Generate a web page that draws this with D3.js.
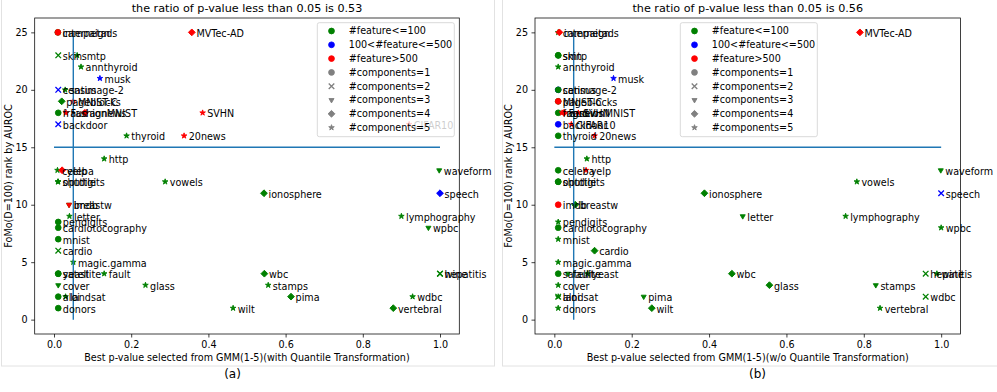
<!DOCTYPE html>
<html>
<head>
<meta charset="utf-8">
<script src="https://cdn.jsdelivr.net/npm/d3@7"></script>
<style>
  body { margin: 0; background: #fff; }
  svg { display: block; font-family: 'DejaVu Sans', sans-serif; }
</style>
</head>
<body>
<script>
/* FoMo rank vs best GMM p-value, two panels */

// Dataset names (same order for both panels, later ones drawn on top)
const datasets = [
  'campaign', 'internetads', 'MVTec-AD', 'skin', 'smtp', 'annthyroid', 'musk',
  'census', 'satimage-2', 'pageblocks', 'MNIST-C', 'fraud', 'agnews',
  'FashionMNIST', 'SVHN', 'backdoor', 'CIFAR10', 'thyroid', '20news', 'http',
  'celeba', 'yelp', 'shuttle', 'optdigits', 'vowels', 'waveform', 'ionosphere',
  'speech', 'breastw', 'imdb', 'letter', 'lymphography', 'pendigits',
  'cardiotocography', 'wpbc', 'mnist', 'cardio', 'magic.gamma', 'satellite',
  'yeast', 'fault', 'wbc', 'hepatitis', 'wine', 'cover', 'glass', 'stamps',
  'aloi', 'landsat', 'pima', 'wdbc', 'donors', 'wilt', 'vertebral'
];

// Feature-count groups
const midFeatureSets = ['musk', 'census', 'backdoor', 'speech'];
const bigFeatureSets = [
  'internetads', 'MVTec-AD', 'MNIST-C', 'agnews', 'FashionMNIST', 'SVHN',
  'CIFAR10', '20news', 'yelp', 'imdb'
];

// (a) with quantile transformation
const pvalA = [
  0.010, 0.010, 0.357, 0.011, 0.060, 0.070, 0.119,
  0.011, 0.029, 0.020, 0.050, 0.011, 0.080,
  0.031, 0.385, 0.011, 0.920, 0.188, 0.337, 0.130,
  0.009, 0.021, 0.010, 0.011, 0.288, 0.998, 0.544,
  1.000, 0.039, 0.039, 0.040, 0.900, 0.011,
  0.011, 0.970, 0.011, 0.011, 0.050, 0.011,
  0.011, 0.130, 0.545, 1.000, 1.000, 0.011, 0.237, 0.555,
  0.011, 0.030, 0.614, 0.929, 0.011, 0.464, 0.879
];
const rankA = [
  25, 25, 25, 23, 23, 22, 21,
  20, 20, 19, 19, 18, 18,
  18, 18, 17, 17, 16, 16, 14,
  13, 13, 12, 12, 12, 13, 11,
  11, 10, 10, 9, 9, 8.5,
  8, 8, 7, 6, 5, 4,
  4, 4, 4, 4, 4, 3, 3, 3,
  2, 2, 2, 2, 1, 1, 1
];
const compA = [
  1, 1, 4, 2, 5, 5, 5,
  2, 5, 4, 5, 1, 4,
  5, 5, 2, 5, 5, 5, 5,
  5, 4, 5, 5, 5, 3, 4,
  4, 3, 3, 5, 5, 1,
  1, 3, 1, 2, 5, 1,
  1, 5, 4, 2, 2, 3, 5, 5,
  1, 5, 4, 5, 1, 5, 4
];

// (b) without quantile transformation
const pvalB = [
  0.010, 0.013, 0.790, 0.010, 0.010, 0.010, 0.153,
  0.010, 0.010, 0.010, 0.010, 0.010, 0.020,
  0.025, 0.062, 0.010, 0.044, 0.010, 0.104, 0.084,
  0.010, 0.082, 0.010, 0.010, 0.782, 0.999, 0.388,
  1.000, 0.054, 0.010, 0.487, 0.753, 0.010,
  0.010, 1.000, 0.010, 0.104, 0.010, 0.010,
  0.086, 0.035, 0.459, 0.960, 0.989, 0.010, 0.556, 0.831,
  0.010, 0.010, 0.231, 0.960, 0.010, 0.252, 0.842
];
const rankB = rankA.slice();
const compB = [
  5, 4, 4, 1, 1, 5, 5,
  1, 1, 1, 1, 1, 5,
  4, 5, 1, 5, 1, 5, 5,
  1, 5, 1, 1, 5, 3, 4,
  2, 4, 1, 3, 5, 5,
  1, 5, 5, 4, 5, 1,
  5, 3, 4, 2, 5, 5, 4, 3,
  2, 5, 3, 2, 5, 4, 5
];

const legendLabels = [
  '#feature<=100', '100<#feature<=500', '#feature>500',
  '#components=1', '#components=2', '#components=3', '#components=4', '#components=5'
];
const xTicks = [0, 0.2, 0.4, 0.6, 0.8, 1.0];
const yTicks = [0, 5, 10, 15, 20, 25];
const pThreshold = 0.05;
const rankThreshold = 15;

// Colours
const groupColors = ['green', 'blue', 'red'];
const lineColor = '#1f77b4';
const fontSmall = '9.6px';

function featureGroup(name) {
  if (bigFeatureSets.includes(name)) return 2;
  if (midFeatureSets.includes(name)) return 1;
  return 0;
}

// 'x' marker as a custom d3 symbol type
const crossType = {
  draw(context, size) {
    const r = Math.sqrt(size) / 2;
    context.moveTo(-r, -r);
    context.lineTo(r, r);
    context.moveTo(-r, r);
    context.lineTo(r, -r);
  },
};
const markerTypes = [null, d3.symbolCircle, crossType, d3.symbolTriangle, d3.symbolSquare, d3.symbolStar];
const markerSizes = [0, 26, 31, 11, 23, 9.6];
const markerRotate = [0, 0, 0, 180, 45, 0];

function addMarker(g, comp, color, cx, cy) {
  const path = d3.symbol().type(markerTypes[comp]).size(markerSizes[comp])();
  const m = g
    .append('path')
    .attr('d', path)
    .attr('transform', `translate(${cx},${cy}) rotate(${markerRotate[comp]})`);
  if (comp === 2) {
    m.attr('fill', 'none').attr('stroke', color).attr('stroke-width', 1.3);
  } else {
    m.attr('fill', color).attr('stroke', color).attr('stroke-width', 0.9);
  }
}

const svg = d3.select('body').append('svg').attr('width', 997).attr('height', 392);

const panels = [
  {
    pvals: pvalA, ranks: rankA, comps: compA,
    xRange: [34.7, 459.3], box: [1, 494],
    title: 'the ratio of p-value less than 0.05 is 0.53',
    xlabel: 'Best p-value selected from GMM(1-5)(with Quantile Transformation)',
    caption: '(a)', captionX: 232.5, legendX: 317.3,
  },
  {
    pvals: pvalB, ranks: rankB, comps: compB,
    xRange: [535, 960.5], box: [502, 998],
    title: 'the ratio of p-value less than 0.05 is 0.56',
    xlabel: 'Best p-value selected from GMM(1-5)(w/o Quantile Transformation)',
    caption: '(b)', captionX: 757.5, legendX: 680.3,
  },
];

panels.forEach((p) => {
  const g = svg.append('g');

  // figure border
  g.append('rect')
    .attr('x', p.box[0] + 0.5)
    .attr('y', -2)
    .attr('width', p.box[1] - p.box[0])
    .attr('height', 368)
    .attr('fill', 'none')
    .attr('stroke', '#e2e2e2');

  const x = d3.scaleLinear().domain([-0.05, 1.05]).range(p.xRange);
  const y = d3.scaleLinear().domain([-1.25, 26.25]).range([334, 18]);

  // markers
  const marks = g.append('g');
  datasets.forEach((name, i) => {
    addMarker(marks, p.comps[i], groupColors[featureGroup(name)], x(p.pvals[i]), y(p.ranks[i]));
  });

  // threshold lines
  g.append('line')
    .attr('x1', x(0)).attr('x2', x(1))
    .attr('y1', y(rankThreshold)).attr('y2', y(rankThreshold))
    .attr('stroke', lineColor).attr('stroke-width', 1.4);
  g.append('line')
    .attr('x1', x(pThreshold)).attr('x2', x(pThreshold))
    .attr('y1', y(0)).attr('y2', y(25))
    .attr('stroke', lineColor).attr('stroke-width', 1.4);

  // axes
  const xAxis = g
    .append('g')
    .attr('transform', `translate(0,${y.range()[0]})`)
    .call(d3.axisBottom(x).tickValues(xTicks).tickFormat(d3.format('.1f')).tickSize(3.5).tickPadding(3.5));
  const yAxis = g
    .append('g')
    .attr('transform', `translate(${p.xRange[0]},0)`)
    .call(d3.axisLeft(y).tickValues(yTicks).tickSize(3.5).tickPadding(3.5));
  [xAxis, yAxis].forEach((a) => {
    a.select('.domain').remove();
    a.selectAll('line').attr('stroke', '#000').attr('stroke-width', 0.75);
    a.selectAll('text').attr('fill', '#000').style('font-size', fontSmall).style('font-family', 'DejaVu Sans');
  });

  // spines
  g.append('rect')
    .attr('x', p.xRange[0])
    .attr('y', 18)
    .attr('width', p.xRange[1] - p.xRange[0])
    .attr('height', 334 - 18)
    .attr('fill', 'none')
    .attr('stroke', '#000')
    .attr('stroke-width', 0.75);

  // point labels
  datasets.forEach((name, i) => {
    g.append('text')
      .attr('x', x(p.pvals[i]) + 4.6)
      .attr('y', y(p.ranks[i]) + 4.4)
      .text(name)
      .attr('font-size', fontSmall)
      .attr('fill', '#000');
  });

  // legend
  const lg = g.append('g').attr('transform', `translate(${p.legendX},22.7)`);
  lg.append('rect')
    .attr('width', 137)
    .attr('height', 114)
    .attr('rx', 2)
    .attr('fill', '#fff')
    .attr('fill-opacity', 0.8)
    .attr('stroke', '#cccccc')
    .attr('stroke-width', 0.75);
  legendLabels.forEach((label, i) => {
    const cy = 8.3 + i * 13.8;
    const comp = i < 3 ? 1 : i - 2;
    const color = i < 3 ? groupColors[i] : 'gray';
    addMarker(lg, comp, color, 14.2, cy);
    lg.append('text')
      .attr('x', 31.5)
      .attr('y', cy + 3.4)
      .text(label)
      .attr('font-size', fontSmall)
      .attr('fill', '#000');
  });

  // title and axis labels
  const cx = (p.xRange[0] + p.xRange[1]) / 2;
  g.append('text')
    .attr('x', cx)
    .attr('y', 12)
    .attr('text-anchor', 'middle')
    .attr('font-size', '11.2px')
    .text(p.title);
  g.append('text')
    .attr('x', cx)
    .attr('y', 360.5)
    .attr('text-anchor', 'middle')
    .attr('font-size', fontSmall)
    .text(p.xlabel);
  g.append('text')
    .attr('transform', `translate(${p.xRange[0] - 23},176) rotate(-90)`)
    .attr('text-anchor', 'middle')
    .attr('font-size', fontSmall)
    .text('FoMo(D=100) rank by AUROC');
  g.append('text')
    .attr('x', p.captionX)
    .attr('y', 377.5)
    .attr('text-anchor', 'middle')
    .attr('font-size', '12px')
    .text(p.caption);
});
</script>
</body>
</html>
